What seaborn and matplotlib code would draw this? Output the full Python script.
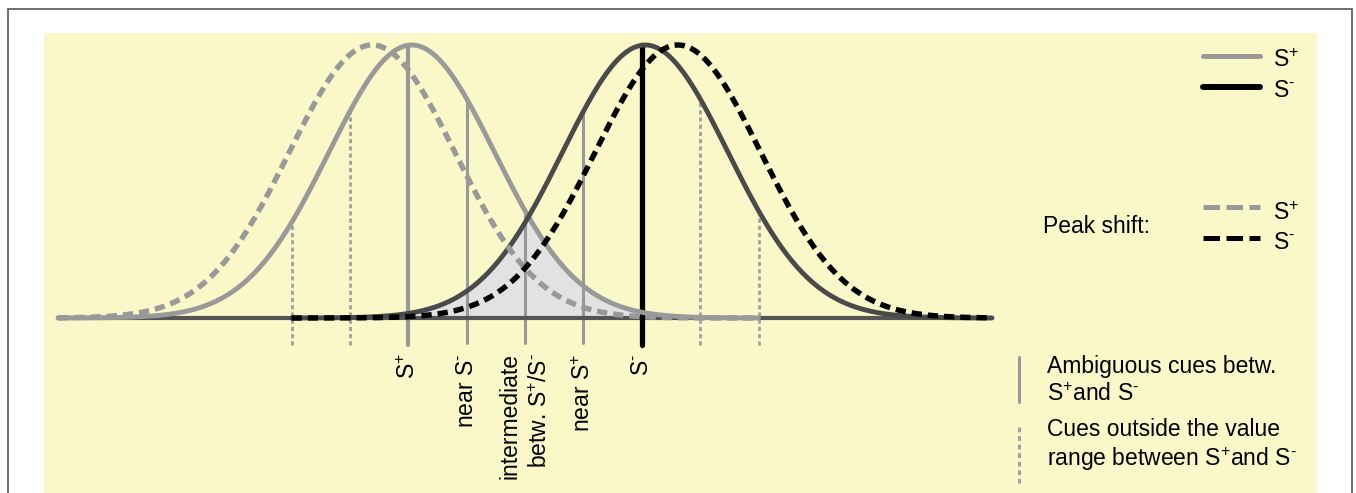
import numpy as np
import pandas as pd
import matplotlib
matplotlib.use("Agg")
import matplotlib.pyplot as plt
import seaborn as sns
from matplotlib.patches import Rectangle
from matplotlib.lines import Line2D

# Stimulus dimension in cue steps: S+ at 0, S- at 4
SP = "S$^{+}$"
SM = "S$^{\\text{-}}$"
stim_pos = [0, 4]
stim_labels = [SP, SM]
amb_pos = [1, 2, 3]
amb_labels = ["near " + SM, "intermediate\nbetw. " + SP + "/" + SM, "near " + SP]
out_pos = [-2, -1, 5, 6]

# Generalization gradients (peak position, drawn range)
grad_names = ["S+", "S-", "S+ shift", "S- shift"]
grad_peak = [0.06, 4.06, -0.62, 4.62]
grad_start = [-6, -2, -6, -2]
grad_end = [6, 10, 6, 10]
grad_width = 1.42

W, H = 1356, 493
YELLOW = "#faf8c8"
LIGHT = "#999999"
DARK = "#4a4a4a"


def gauss(x, peak):
    return np.exp(-(np.asarray(x) - peak) ** 2 / (2 * grad_width ** 2))


def fx(p):
    return p / W


def fy(p):
    return 1 - p / H


rows = []
for name, pk, a, b in zip(grad_names, grad_peak, grad_start, grad_end):
    xs = np.linspace(a, b, 400)
    rows.append(pd.DataFrame({"x": xs, "y": gauss(xs, pk), "curve": name}))
df = pd.concat(rows, ignore_index=True)

sns.set_theme(style="white")
plt.rcParams["font.family"] = ["Liberation Sans", "DejaVu Sans"]
plt.rcParams["mathtext.fontset"] = "custom"
plt.rcParams["mathtext.rm"] = "Liberation Sans"
plt.rcParams["mathtext.default"] = "regular"
plt.rcParams["text.color"] = "black"
FS = 16.5

fig = plt.figure(figsize=(W / 100, H / 100), dpi=100)
fig.patch.set_facecolor("white")

# outer frame and yellow panel
fig.patches.append(Rectangle((fx(8), fy(700)), fx(1352) - fx(8), fy(9) - fy(700),
                             transform=fig.transFigure, fill=False, ec="#555555", lw=1.2,
                             zorder=-10))
fig.patches.append(Rectangle((fx(44), fy(700)), fx(1317) - fx(44), fy(33) - fy(700),
                             transform=fig.transFigure, fc=YELLOW, ec="none", zorder=-10))

ax = fig.add_axes([fx(58), fy(318), fx(992) - fx(58), fy(45) - fy(318)])
ax.patch.set_alpha(0)

# overlap between the two gradients
xs = np.linspace(stim_pos[0], stim_pos[1], 200)
overlap = np.minimum(gauss(xs, grad_peak[0]), gauss(xs, grad_peak[1]))
ax.fill_between(xs, 0, overlap, color="#e2e2e2", lw=0, zorder=1)

# baseline
ax.plot([min(grad_start), max(grad_end)], [0, 0], color="#555555", lw=3.0,
        solid_capstyle="round", zorder=2, clip_on=False)


def top_of(x):
    return max(gauss(x, grad_peak[0]), gauss(x, grad_peak[1]))


# S+ / S- cue lines
ax.plot([stim_pos[0]] * 2, [-0.1, top_of(stim_pos[0])], color=LIGHT, lw=3.0,
        zorder=1.5, clip_on=False)
ax.plot([stim_pos[1]] * 2, [-0.1, top_of(stim_pos[1])], color="black", lw=3.8,
        zorder=3, clip_on=False, solid_capstyle="round")
# ambiguous cues
for p in amb_pos:
    ax.plot([p, p], [-0.09, top_of(p)], color=LIGHT, lw=2.2, zorder=1.5, clip_on=False)
# cues outside the range
for p in out_pos:
    ax.plot([p, p], [-0.1, top_of(p)], color="#a0a0a0", lw=2.0,
            linestyle=(0, (1.5, 1.1)), zorder=1.5, clip_on=False)

# gradients
styles = {
    "S+": dict(color=LIGHT, lw=3.5, linestyle="-", zorder=4),
    "S-": dict(color=DARK, lw=3.5, linestyle="-", zorder=4),
    "S+ shift": dict(color=LIGHT, lw=3.9, linestyle=(0, (1.9, 1.1)), zorder=5),
    "S- shift": dict(color="black", lw=3.9, linestyle=(0, (1.9, 1.1)), zorder=5),
}
for name in grad_names:
    sns.lineplot(data=df[df["curve"] == name], x="x", y="y", ax=ax, estimator=None,
                 solid_capstyle="round", clip_on=False, legend=False, **styles[name])
ax.set_xlim(min(grad_start), max(grad_end))
ax.set_ylim(0, 1)
ax.axis("off")

# cue labels under the axis
for p, lab in zip(stim_pos + amb_pos, stim_labels + amb_labels):
    ax.text(p, -0.13, lab, rotation=90, ha="center", va="top", fontsize=FS,
            multialignment="right", linespacing=1.4)

# legend: gradients
tr = fig.transFigure
fig.add_artist(Line2D([fx(1203), fx(1260)], [fy(56)] * 2, transform=tr, color=LIGHT, lw=3.6))
fig.add_artist(Line2D([fx(1203), fx(1260)], [fy(87)] * 2, transform=tr, color="black", lw=4.3))
fig.add_artist(Line2D([fx(1203), fx(1260)], [fy(207)] * 2, transform=tr, color=LIGHT, lw=3.6,
                      linestyle=(0, (3.3, 1.3))))
fig.add_artist(Line2D([fx(1203), fx(1260)], [fy(238)] * 2, transform=tr, color="black", lw=3.6,
                      linestyle=(0, (3.3, 1.3))))
fig.text(fx(1273), fy(67), SP, fontsize=FS, va="baseline")
fig.text(fx(1273), fy(97), SM, fontsize=FS, va="baseline")
fig.text(fx(1273), fy(220), SP, fontsize=FS, va="baseline")
fig.text(fx(1273), fy(249), SM, fontsize=FS, va="baseline")
fig.text(fx(1043), fy(233), "Peak shift:", fontsize=FS, va="baseline")

# legend: cue types
fig.add_artist(Line2D([fx(1019)] * 2, [fy(357), fy(402)], transform=tr, color=LIGHT, lw=2.2))
fig.add_artist(Line2D([fx(1019)] * 2, [fy(427), fy(483)], transform=tr, color="#a0a0a0", lw=2.2,
                      linestyle=(0, (1.6, 1.2))))
fig.text(fx(1047), fy(373), "Ambiguous cues betw.", fontsize=FS, va="baseline")
fig.text(fx(1047), fy(401), SP + "and " + SM, fontsize=FS, va="baseline")
fig.text(fx(1047), fy(436), "Cues outside the value", fontsize=FS, va="baseline")
fig.text(fx(1047), fy(466), "range between " + SP + "and " + SM, fontsize=FS, va="baseline")

fig.savefig("out.png", dpi=100, facecolor="white")
